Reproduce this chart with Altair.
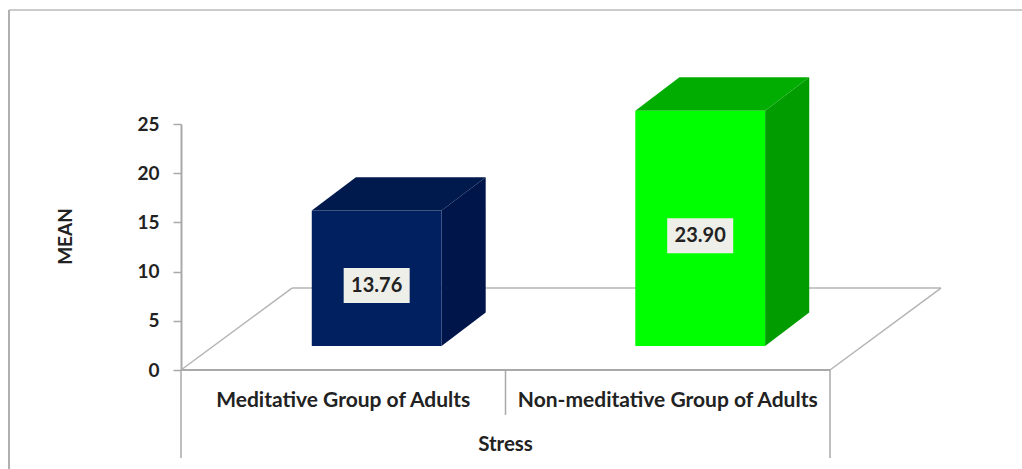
import altair as alt
import pandas as pd

# Values shown on the chart
groups = ["Meditative Group of Adults", "Non-meditative Group of Adults"]
means = [13.76, 23.90]
mean_labels = ["13.76", "23.90"]
y_ticks = [0, 5, 10, 15, 20, 25]
group_title = "Stress"
value_title = "MEAN"

# Face colours of the extruded columns
front_colors = ["#00205f", "#00ff00"]
top_colors = ["#001a4e", "#00ad00"]
side_colors = ["#00164a", "#009c00"]

# Pseudo-3D geometry, expressed in data units of the two axes
BAR_CENTERS = [0.603, 1.6]
BAR_HALF = 0.2
BAR_BASE = 2.44
BAR_DX = 0.136
BAR_DY = 3.4
LABEL_LIFT = 1.7
FLOOR_DX = 0.342
FLOOR_DY = 8.33

FONT = "Lato"
TEXT = "#222222"
LINE = "#a9a9a9"

x_scale = alt.Scale(domain=[0, 2], nice=False, zero=False)
y_scale = alt.Scale(domain=[0, 25], nice=False, zero=False)
y_axis = alt.Axis(
    values=y_ticks, grid=False, format="d", domainColor=LINE, domainWidth=2,
    tickColor=LINE, tickWidth=1.5, tickSize=8, labelFont=FONT, labelFontSize=19,
    labelFontWeight="bold", labelColor=TEXT, labelPadding=14,
    titleFont=FONT, titleFontSize=19, titleFontWeight="bold", titleColor=TEXT,
    titleY=112, titleX=-106,
)
X = lambda f: alt.X(f, type="quantitative", scale=x_scale, axis=None)
Y = lambda f: alt.Y(f, type="quantitative", scale=y_scale, axis=y_axis, title=value_title, stack=None)

bars = pd.DataFrame({
    "group": groups,
    "mean": means,
    "label": mean_labels,
    "left": [c - BAR_HALF for c in BAR_CENTERS],
    "right": [c + BAR_HALF for c in BAR_CENTERS],
    "center": BAR_CENTERS,
    "base": [BAR_BASE] * 2,
    "top": [BAR_BASE + m for m in means],
    "label_y": [m / 2 + LABEL_LIFT for m in means],
    "front_color": front_colors,
})

side_rows, top_rows = [], []
for i, g in enumerate(groups):
    right = BAR_CENTERS[i] + BAR_HALF
    left = BAR_CENTERS[i] - BAR_HALF
    top = BAR_BASE + means[i]
    for t in (0, 1):
        side_rows.append({
            "group": g, "x": right + t * BAR_DX,
            "y": top + t * BAR_DY, "y2": BAR_BASE + t * BAR_DY,
            "color": side_colors[i],
        })
        top_rows.append({
            "group": g, "y": top + t * BAR_DY,
            "x": left + t * BAR_DX, "x2": right + t * BAR_DX,
            "color": top_colors[i],
        })
side_df = pd.DataFrame(side_rows)
top_df = pd.DataFrame(top_rows)

# Floor parallelogram behind the columns
floor_df = pd.DataFrame([
    {"edge": "left", "x": 0, "y": 0},
    {"edge": "left", "x": FLOOR_DX, "y": FLOOR_DY},
    {"edge": "back", "x": FLOOR_DX, "y": FLOOR_DY},
    {"edge": "back", "x": 2 + FLOOR_DX, "y": FLOOR_DY},
    {"edge": "right", "x": 2, "y": 0},
    {"edge": "right", "x": 2 + FLOOR_DX, "y": FLOOR_DY},
])
floor = alt.Chart(floor_df).mark_line(color="#b4b4b4", strokeWidth=1.5).encode(
    x=X("x"), y=Y("y"), detail="edge:N", order="x:Q"
)

# Category axis: baseline, dividers and labels
baseline = alt.Chart(pd.DataFrame({"x": [0], "x2": [2], "y": [0]})).mark_rule(
    color=LINE, strokeWidth=2
).encode(x=X("x"), x2="x2:Q", y=Y("y"))
dividers = alt.Chart(pd.DataFrame({
    "x": [0, 1, 2], "y": [0, 0, 0], "y2": [-8.94, -4.57, -8.94]
})).mark_rule(color=LINE, strokeWidth=1.5).encode(
    x=X("x"), y=Y("y"), y2="y2:Q"
)
group_text = alt.Chart(pd.DataFrame({"group": groups, "x": [0.5, 1.5], "y": [-3.2] * 2})).mark_text(
    font=FONT, fontWeight="bold", fontSize=21, color=TEXT, baseline="middle"
).encode(x=X("x"), y=Y("y"), text="group:N")
title_text = alt.Chart(pd.DataFrame({"t": [group_title], "x": [1], "y": [-7.6]})).mark_text(
    font=FONT, fontWeight="bold", fontSize=20.5, color=TEXT, baseline="middle"
).encode(x=X("x"), y=Y("y"), text="t:N")

# Column faces
sides = alt.Chart(side_df).mark_area(orient="vertical").encode(
    x=X("x"), y=Y("y"), y2="y2:Q",
    detail="group:N", color=alt.Color("color:N", scale=None),
)
tops = alt.Chart(top_df).mark_area(orient="horizontal").encode(
    y=Y("y"), x=alt.X("x:Q", scale=x_scale, axis=None, stack=None), x2="x2:Q",
    detail="group:N", color=alt.Color("color:N", scale=None),
)
fronts = alt.Chart(bars).mark_rect().encode(
    x=X("left"), x2="right:Q", y=Y("base"), y2="top:Q",
    color=alt.Color("front_color:N", scale=None),
)

# Value badges
badges = alt.Chart(bars).mark_rect(color="#efefe9", width=66, height=35).encode(
    x=X("center"), y=Y("label_y")
)
badge_text = alt.Chart(bars).mark_text(
    font=FONT, fontWeight="bold", fontSize=20, color=TEXT, baseline="middle"
).encode(x=X("center"), y=Y("label_y"), text="label:N")

# Chart-area outline (open at the bottom)
frame_top = alt.Chart(pd.DataFrame({"a": [0]})).mark_rule(color="#cbcbcb", strokeWidth=2).encode(
    x=alt.value(-172), x2=alt.value(841), y=alt.value(-114)
)
frame_left = alt.Chart(pd.DataFrame({"a": [0]})).mark_rule(color="#b0b0b0", strokeWidth=2).encode(
    x=alt.value(-172), y=alt.value(-114), y2=alt.value(345)
)

chart = alt.layer(
    frame_top, frame_left, floor, baseline, dividers,
    sides, tops, fronts, badges, badge_text, group_text, title_text,
).properties(
    width=649, height=246,
    padding={"left": 181, "top": 124, "right": 192, "bottom": 99},
    autosize=alt.AutoSizeParams(type="none"),
    background="white",
).configure_view(strokeWidth=0)

chart.save("out.html", embed_options={"renderer": "svg", "actions": False})
